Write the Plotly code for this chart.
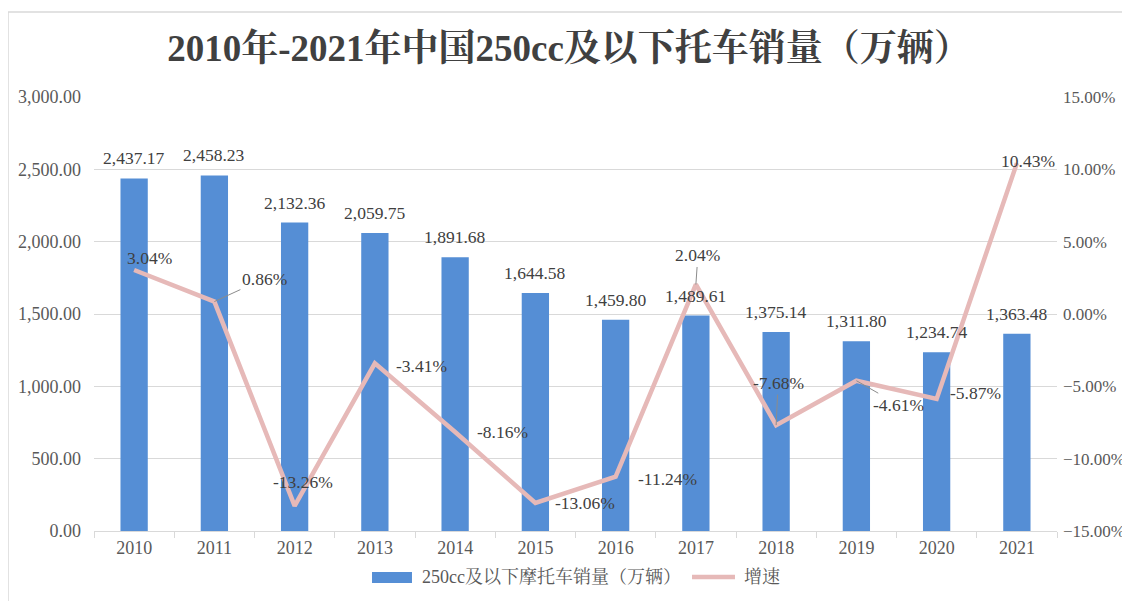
import plotly.graph_objects as go

years = ["2010", "2011", "2012", "2013", "2014", "2015", "2016", "2017", "2018", "2019", "2020", "2021"]
sales = [2437.17, 2458.23, 2132.36, 2059.75, 1891.68, 1644.58, 1459.80, 1489.61, 1375.14, 1311.80, 1234.74, 1363.48]
growth = [3.04, 0.86, -13.26, -3.41, -8.16, -13.06, -11.24, 2.04, -7.68, -4.61, -5.87, 10.43]
bar_name = "250cc及以下摩托车销量（万辆）"
line_name = "增速"

# label offsets (px) for growth labels, and whether a leader line is drawn
g_offsets = [(15, -12, False), (50, -23, True), (8, -24, False), (47, 3, False), (47, 0, False),
             (50, 0, False), (52, 2, False), (2, -29, True), (2, -42, True), (42, 24, True),
             (39, -6, False), (11, -2, False)]

SERIF = "Liberation Serif, Times New Roman, Noto Serif CJK SC, Noto Sans CJK SC, serif"
TXT = "#404040"
BLUE = "#558ED5"
PINK = "#E6B9B8"

fig = go.Figure()
fig.add_trace(go.Bar(x=years, y=sales, name=bar_name, showlegend=False,
                     marker=dict(color=BLUE, line=dict(width=0)), width=0.34))
fig.add_trace(go.Scatter(x=years, y=growth, name=line_name, yaxis="y2", mode="lines", showlegend=False,
                         line=dict(color=PINK, width=4.5)))

ann = []
for i, v in enumerate(sales):
    ann.append(dict(x=i, y=v, xref="x", yref="y", text=f"{v:,.2f}", showarrow=False,
                    yshift=20, font=dict(family=SERIF, size=17.5, color=TXT)))
for i, (v, (dx, dy, lead)) in enumerate(zip(growth, g_offsets)):
    if lead:
        ann.append(dict(x=i, y=v, xref="x", yref="y2", text=f"{v:.2f}%", showarrow=True,
                        ax=dx, ay=dy, arrowhead=0, arrowwidth=1, arrowcolor="#8c8c8c",
                        standoff=0, font=dict(family=SERIF, size=17.5, color=TXT)))
    else:
        ann.append(dict(x=i, y=v, xref="x", yref="y2", text=f"{v:.2f}%", showarrow=False,
                        xshift=dx, yshift=-dy, font=dict(family=SERIF, size=17.5, color=TXT)))

# custom legend
ann.append(dict(x=0.3385, y=-0.106, xref="paper", yref="paper", text=bar_name, showarrow=False,
                xanchor="left", yanchor="middle", font=dict(family=SERIF, size=18, color="#595959")))
ann.append(dict(x=0.6729, y=-0.106, xref="paper", yref="paper", text=line_name, showarrow=False,
                xanchor="left", yanchor="middle", font=dict(family=SERIF, size=18, color="#595959")))

shapes = [
    dict(type="rect", xref="paper", yref="paper", x0=-0.0893, x1=1.2, y0=-0.3, y1=1.196,
         line=dict(color="#d9d9d9", width=1.5), layer="below"),
    dict(type="rect", xref="paper", yref="paper", x0=0.2887, x1=0.3302, y0=-0.1198, y1=-0.0945,
         fillcolor=BLUE, line=dict(width=0)),
    dict(type="line", xref="paper", yref="paper", x0=0.621, x1=0.6656, y0=-0.106, y1=-0.106,
         line=dict(color=PINK, width=4.5)),
]

fig.update_layout(
    width=1122, height=593,
    margin=dict(l=86, r=73, t=89, b=70, autoexpand=False),
    paper_bgcolor="white", plot_bgcolor="white",
    title=dict(text="<b>2010年-2021年中国250cc及以下托车销量（万辆）</b>", x=0.5, xanchor="center",
               y=0.9325, yanchor="middle", font=dict(family=SERIF, size=37, color=TXT)),
    font=dict(family=SERIF, size=16, color="#595959"),
    showlegend=False,
    xaxis=dict(type="category", range=[-0.5, 11.5], showline=True, linecolor="#d9d9d9", linewidth=1,
               ticks="outside", tickson="boundaries", ticklen=6, tickcolor="#d9d9d9", automargin=False,
               tickfont=dict(family=SERIF, size=18, color="#595959"), showgrid=False),
    yaxis=dict(range=[0, 3000], dtick=500, tickformat=",.2f", showgrid=True, gridcolor="#d9d9d9",
               zeroline=False, tickfont=dict(family=SERIF, size=18, color="#595959"), automargin=False,
               ticks="", ticklen=0, ticklabelstandoff=12),
    yaxis2=dict(range=[-15, 15], dtick=5, tickformat=".2f", ticksuffix="%", overlaying="y", side="right",
                showgrid=False, zeroline=False, tickfont=dict(family=SERIF, size=17, color="#595959"),
                automargin=False, ticklabelstandoff=5),
    annotations=ann,
    shapes=shapes,
)

fig.write_html("out.html")
